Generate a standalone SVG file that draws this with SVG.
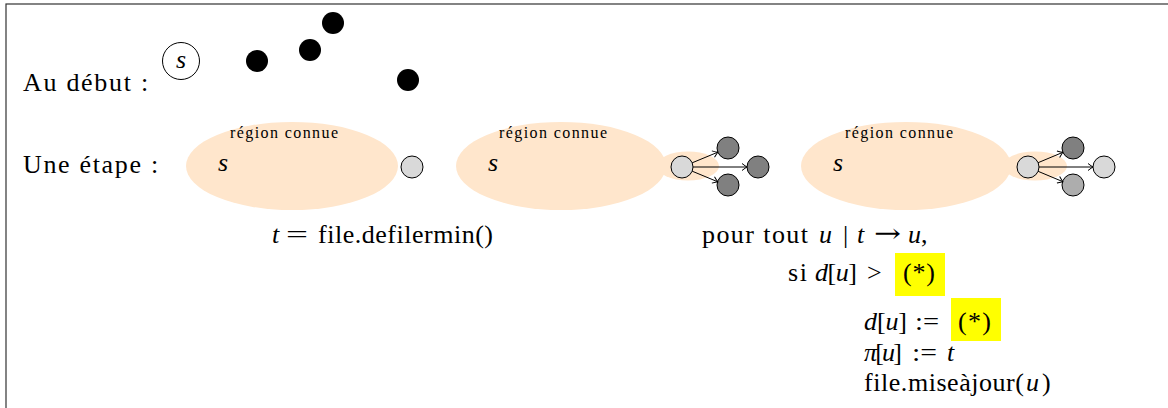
<svg xmlns="http://www.w3.org/2000/svg" width="1168" height="408" viewBox="0 0 1168 408">
<defs>
<marker id="arr" markerUnits="userSpaceOnUse" markerWidth="12" markerHeight="12" refX="0" refY="0" orient="auto" viewBox="-6 -6 12 12" overflow="visible">
<path d="M-5,-3.5 Q-1.5,-0.8 0,0 Q-1.5,0.8 -5,3.5" fill="none" stroke="#000" stroke-width="1"/>
</marker>
</defs>
<style>
text{font-family:"Liberation Serif","Times New Roman",serif;fill:#000}
.t{font-size:26px}
.i{font-style:italic}
.small{font-size:16px}
.sym{font-family:"DejaVu Serif",serif}
.region{fill:#FFE6CC;stroke:none}
.n{stroke:#000;stroke-width:1}
.light{fill:#D9D9D9}
.dark{fill:#808080}
.mid{fill:#ADADAD}
.blk{fill:#000}
.hl{fill:#FFFF00}
.edge{stroke:#000;stroke-width:1;fill:none;marker-end:url(#arr)}
</style>
<rect x="6" y="4" width="1170" height="420" fill="#fff" stroke="#333" stroke-width="1.2"/>

<g id="labels">
<text class="t" x="23" y="91" textLength="108" lengthAdjust="spacing">Au début</text>
<text class="t" x="141" y="91">:</text>
<text class="t" x="23" y="173" textLength="118" lengthAdjust="spacing">Une étape</text>
<text class="t" x="151" y="173">:</text>
</g>

<g id="debut">
<g id="s0"><circle cx="181" cy="61" r="18.5" fill="#fff" class="n"/><text class="t i" x="181" y="68" text-anchor="middle">s</text></g>
<g id="b1"><circle cx="257" cy="61" r="11" class="blk"/></g>
<g id="b2"><circle cx="310" cy="50" r="11" class="blk"/></g>
<g id="b3"><circle cx="333" cy="23" r="11" class="blk"/></g>
<g id="b4"><circle cx="408" cy="80" r="11" class="blk"/></g>
</g>

<g id="stage1">
<ellipse class="region" cx="292" cy="166" rx="106" ry="44"/>
<text class="small" x="230" y="138" textLength="108" lengthAdjust="spacing">région connue</text>
<text class="t i" x="218" y="171">s</text>
<g id="n1t"><circle cx="412" cy="167" r="11" class="n light"/></g>
</g>

<g id="stage2">
<ellipse class="region" cx="561" cy="166" rx="105" ry="44"/>
<ellipse class="region" cx="688" cy="166" rx="31" ry="14.5"/>
<text class="small" x="499" y="138" textLength="108" lengthAdjust="spacing">région connue</text>
<text class="t i" x="488" y="171">s</text>
<g id="n2t"><circle cx="682" cy="167" r="11" class="n light"/></g>
<g id="n2a"><circle cx="728" cy="148" r="11" class="n dark"/></g>
<g id="n2b"><circle cx="758" cy="167" r="11" class="n dark"/></g>
<g id="n2c"><circle cx="728" cy="185" r="11" class="n dark"/></g>
</g>

<g id="stage3">
<ellipse class="region" cx="906" cy="166" rx="105" ry="44"/>
<ellipse class="region" cx="1035" cy="166" rx="32" ry="14.5"/>
<text class="small" x="845" y="138" textLength="108" lengthAdjust="spacing">région connue</text>
<text class="t i" x="833" y="171">s</text>
<g id="n3t"><circle cx="1028" cy="167" r="11" class="n light"/></g>
<g id="n3a"><circle cx="1073" cy="148" r="11" class="n dark"/></g>
<g id="n3b"><circle cx="1104" cy="167" r="11" class="n light"/></g>
<g id="n3c"><circle cx="1073" cy="185" r="11" class="n mid"/></g>
</g>

<g id="connectors">
<line class="edge" x1="692.2" y1="162.8" x2="717.8" y2="152.2"/>
<line class="edge" x1="693" y1="167" x2="747" y2="167"/>
<line class="edge" x1="692.2" y1="171.2" x2="717.8" y2="181.8"/>
<line class="edge" x1="1038.1" y1="162.7" x2="1062.9" y2="152.3"/>
<line class="edge" x1="1039" y1="167" x2="1093" y2="167"/>
<line class="edge" x1="1038.1" y1="171.3" x2="1062.9" y2="181.7"/>
</g>

<g id="text-defiler">
<text class="t i" x="272" y="243">t</text>
<text class="t" x="286" y="243" textLength="22" lengthAdjust="spacingAndGlyphs">=</text>
<text class="t" x="318" y="243" textLength="175" lengthAdjust="spacing">file.defilermin()</text>
</g>

<g id="text-pour">
<text class="t" x="702" y="243" textLength="106" lengthAdjust="spacing">pour tout</text>
<text class="t i" x="819" y="243">u</text>
<text class="t" x="843" y="243">|</text>
<text class="t i" x="857" y="243">t</text>
<text class="t sym" x="874" y="242" textLength="27" lengthAdjust="spacingAndGlyphs">→</text>
<text class="t i" x="908" y="243">u<tspan font-style="normal">,</tspan></text>

<rect class="hl" x="895" y="253" width="50" height="43"/>
<text class="t" x="788" y="281" textLength="19" lengthAdjust="spacing">si</text>
<text class="t" x="815" y="281" textLength="42" lengthAdjust="spacing"><tspan class="i">d</tspan>[<tspan class="i">u</tspan>]</text>
<text class="t" x="867" y="281">&gt;</text>
<text class="t" x="903" y="281" textLength="32" lengthAdjust="spacing">(*)</text>

<rect class="hl" x="951" y="298" width="50" height="43"/>
<text class="t" x="864" y="330" textLength="43" lengthAdjust="spacing"><tspan class="i">d</tspan>[<tspan class="i">u</tspan>]</text>
<text class="t" x="915" y="330" textLength="24" lengthAdjust="spacingAndGlyphs">:=</text>
<text class="t" x="958" y="330" textLength="33" lengthAdjust="spacing">(*)</text>

<text class="t" x="864" y="361" textLength="38" lengthAdjust="spacing"><tspan class="i">π</tspan>[<tspan class="i">u</tspan>]</text>
<text class="t" x="912" y="361" textLength="25" lengthAdjust="spacingAndGlyphs">:=</text>
<text class="t i" x="947" y="361">t</text>

<text class="t" x="864" y="391" textLength="160" lengthAdjust="spacing">file.miseàjour(</text>
<text class="t i" x="1026" y="391">u</text>
<text class="t" x="1042" y="391">)</text>
</g>
</svg>
